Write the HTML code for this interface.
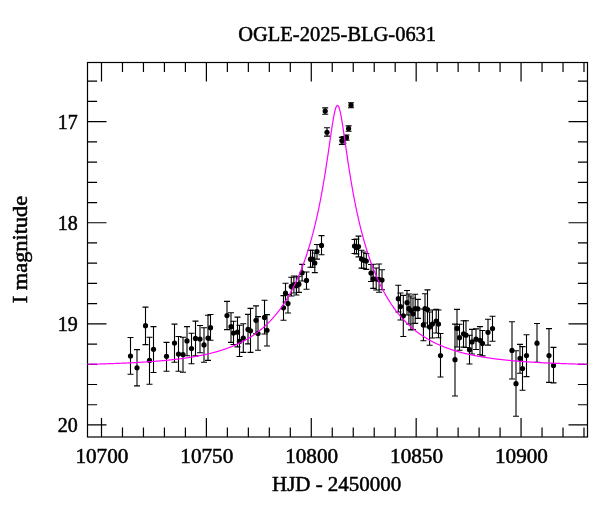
<!DOCTYPE html>
<html><head><meta charset="utf-8"><title>OGLE-2025-BLG-0631</title>
<style>html,body{margin:0;padding:0;background:#fff;}svg{display:block;}text{font-family:"Liberation Serif","DejaVu Serif",serif;fill:#000;stroke:#000;stroke-width:0.5px;}svg{will-change:transform;}</style></head><body>
<svg width="600" height="512" viewBox="0 0 600 512">
<rect width="600" height="512" fill="#fff"/>
<g stroke="#000" stroke-width="1.1" fill="none"><path d="M130.5 337.5V374.3M127.5 337.5H133.5M127.5 374.3H133.5"/><path d="M137.0 349.6V385.9M134.0 349.6H140.0M134.0 385.9H140.0"/><path d="M145.5 307.1V344.6M142.5 307.1H148.5M142.5 344.6H148.5"/><path d="M149.5 337.2V384.2M146.5 337.2H152.5M146.5 384.2H152.5"/><path d="M153.5 326.6V372.5M150.5 326.6H156.5M150.5 372.5H156.5"/><path d="M166.5 342.4V371.2M163.5 342.4H169.5M163.5 371.2H169.5"/><path d="M174.5 324.1V362.2M171.5 324.1H177.5M171.5 362.2H177.5"/><path d="M178.5 336.5V371.3M175.5 336.5H181.5M175.5 371.3H181.5"/><path d="M183.0 337.3V372.2M180.0 337.3H186.0M180.0 372.2H186.0"/><path d="M187.0 326.6V355.7M184.0 326.6H190.0M184.0 355.7H190.0"/><path d="M191.5 333.2V363.7M188.5 333.2H194.5M188.5 363.7H194.5"/><path d="M195.5 321.1V355.9M192.5 321.1H198.5M192.5 355.9H198.5"/><path d="M200.0 325.5V352.7M197.0 325.5H203.0M197.0 352.7H203.0"/><path d="M204.0 327.7V362.2M201.0 327.7H207.0M201.0 362.2H207.0"/><path d="M208.0 315.3V360.4M205.0 315.3H211.0M205.0 360.4H211.0"/><path d="M210.5 314.5V340.2M207.5 314.5H213.5M207.5 340.2H213.5"/><path d="M227.0 301.4V329.6M224.0 301.4H230.0M224.0 329.6H230.0"/><path d="M231.0 312.8V342.4M228.0 312.8H234.0M228.0 342.4H234.0"/><path d="M233.5 321.2V344.5M230.5 321.2H236.5M230.5 344.5H236.5"/><path d="M237.5 317.1V346.9M234.5 317.1H240.5M234.5 346.9H240.5"/><path d="M239.5 325.3V356.5M236.5 325.3H242.5M236.5 356.5H242.5"/><path d="M243.3 323.7V352.4M240.3 323.7H246.3M240.3 352.4H246.3"/><path d="M248.0 314.4V343.9M245.0 314.4H251.0M245.0 343.9H251.0"/><path d="M250.5 308.4V352.4M247.5 308.4H253.5M247.5 352.4H253.5"/><path d="M256.0 305.9V333.8M253.0 305.9H259.0M253.0 333.8H259.0"/><path d="M258.0 316.6V350.3M255.0 316.6H261.0M255.0 350.3H261.0"/><path d="M264.5 300.3V334.0M261.5 300.3H267.5M261.5 334.0H267.5"/><path d="M267.0 314.6V346.0M264.0 314.6H270.0M264.0 346.0H270.0"/><path d="M283.5 295.6V320.3M280.5 295.6H286.5M280.5 320.3H286.5"/><path d="M285.5 283.2V302.0M282.5 283.2H288.5M282.5 302.0H288.5"/><path d="M288.0 294.5V313.0M285.0 294.5H291.0M285.0 313.0H291.0"/><path d="M291.3 277.3V296.0M288.3 277.3H294.3M288.3 296.0H294.3"/><path d="M293.9 276.0V293.0M290.9 276.0H296.9M290.9 293.0H296.9"/><path d="M296.4 277.0V295.0M293.4 277.0H299.4M293.4 295.0H299.4"/><path d="M298.9 276.2V292.4M295.9 276.2H301.9M295.9 292.4H301.9"/><path d="M302.1 264.4V281.0M299.1 264.4H305.1M299.1 281.0H305.1"/><path d="M306.5 272.0V289.3M303.5 272.0H309.5M303.5 289.3H309.5"/><path d="M310.5 250.3V267.3M307.5 250.3H313.5M307.5 267.3H313.5"/><path d="M312.5 250.3V267.3M309.5 250.3H315.5M309.5 267.3H315.5"/><path d="M314.8 253.0V272.6M311.8 253.0H317.8M311.8 272.6H317.8"/><path d="M317.0 244.5V259.1M314.0 244.5H320.0M314.0 259.1H320.0"/><path d="M321.5 235.6V254.7M318.5 235.6H324.5M318.5 254.7H324.5"/><path d="M325.2 107.9V114.3M322.2 107.9H328.2M322.2 114.3H328.2"/><path d="M327.0 127.8V136.1M324.0 127.8H330.0M324.0 136.1H330.0"/><path d="M341.9 137.4V144.4M338.9 137.4H344.9M338.9 144.4H344.9"/><path d="M343.5 136.5V143.0M340.5 136.5H346.5M340.5 143.0H346.5"/><path d="M346.5 135.0V140.1M343.5 135.0H349.5M343.5 140.1H349.5"/><path d="M348.6 125.9V131.3M345.6 125.9H351.6M345.6 131.3H351.6"/><path d="M351.0 102.7V107.7M348.0 102.7H354.0M348.0 107.7H354.0"/><path d="M354.5 239.5V253.5M351.5 239.5H357.5M351.5 253.5H357.5"/><path d="M356.5 239.0V254.0M353.5 239.0H359.5M353.5 254.0H359.5"/><path d="M358.5 236.1V256.9M355.5 236.1H361.5M355.5 256.9H361.5"/><path d="M361.5 250.3V268.1M358.5 250.3H364.5M358.5 268.1H364.5"/><path d="M363.8 252.0V268.5M360.8 252.0H366.8M360.8 268.5H366.8"/><path d="M366.3 253.5V269.4M363.3 253.5H369.3M363.3 269.4H369.3"/><path d="M371.0 264.5V281.5M368.0 264.5H374.0M368.0 281.5H374.0"/><path d="M373.2 264.3V288.4M370.2 264.3H376.2M370.2 288.4H376.2"/><path d="M376.2 268.0V290.0M373.2 268.0H379.2M373.2 290.0H379.2"/><path d="M379.1 264.0V292.3M376.1 264.0H382.1M376.1 292.3H382.1"/><path d="M382.0 269.8V289.8M379.0 269.8H385.0M379.0 289.8H385.0"/><path d="M398.3 285.3V312.0M395.3 285.3H401.3M395.3 312.0H401.3"/><path d="M400.5 293.0V320.0M397.5 293.0H403.5M397.5 320.0H403.5"/><path d="M403.3 295.4V336.5M400.3 295.4H406.3M400.3 336.5H406.3"/><path d="M407.0 290.5V315.0M404.0 290.5H410.0M404.0 315.0H410.0"/><path d="M408.9 294.0V324.0M405.9 294.0H411.9M405.9 324.0H411.9"/><path d="M410.9 296.0V329.9M407.9 296.0H413.9M407.9 329.9H413.9"/><path d="M413.0 298.0V329.5M410.0 298.0H416.0M410.0 329.5H416.0"/><path d="M415.2 294.3V323.4M412.2 294.3H418.2M412.2 323.4H418.2"/><path d="M417.9 299.4V318.4M414.9 299.4H420.9M414.9 318.4H420.9"/><path d="M423.4 309.0V340.7M420.4 309.0H426.4M420.4 340.7H426.4"/><path d="M425.0 293.7V323.0M422.0 293.7H428.0M422.0 323.0H428.0"/><path d="M427.5 289.9V327.0M424.5 289.9H430.5M424.5 327.0H430.5"/><path d="M429.6 312.0V345.2M426.6 312.0H432.6M426.6 345.2H432.6"/><path d="M432.4 310.0V338.0M429.4 310.0H435.4M429.4 338.0H435.4"/><path d="M436.2 309.4V333.0M433.2 309.4H439.2M433.2 333.0H439.2"/><path d="M438.5 310.0V337.7M435.5 310.0H441.5M435.5 337.7H441.5"/><path d="M440.5 333.5V377.0M437.5 333.5H443.5M437.5 377.0H443.5"/><path d="M455.0 324.1V396.0M452.0 324.1H458.0M452.0 396.0H458.0"/><path d="M457.0 309.4V347.0M454.0 309.4H460.0M454.0 347.0H460.0"/><path d="M459.5 324.2V350.2M456.5 324.2H462.5M456.5 350.2H462.5"/><path d="M463.5 320.7V347.1M460.5 320.7H466.5M460.5 347.1H466.5"/><path d="M466.0 320.7V347.5M463.0 320.7H469.0M463.0 347.5H469.0"/><path d="M469.5 335.2V364.0M466.5 335.2H472.5M466.5 364.0H472.5"/><path d="M472.0 329.4V354.0M469.0 329.4H475.0M469.0 354.0H475.0"/><path d="M476.0 328.9V349.5M473.0 328.9H479.0M473.0 349.5H479.0"/><path d="M480.0 326.6V354.7M477.0 326.6H483.0M477.0 354.7H483.0"/><path d="M482.5 330.5V355.9M479.5 330.5H485.5M479.5 355.9H485.5"/><path d="M488.0 319.2V345.1M485.0 319.2H491.0M485.0 345.1H491.0"/><path d="M492.5 316.3V341.2M489.5 316.3H495.5M489.5 341.2H495.5"/><path d="M512.0 321.7V379.0M509.0 321.7H515.0M509.0 379.0H515.0"/><path d="M516.0 350.8V416.2M513.0 350.8H519.0M513.0 416.2H519.0"/><path d="M520.0 344.4V373.3M517.0 344.4H523.0M517.0 373.3H523.0"/><path d="M522.5 346.6V390.3M519.5 346.6H525.5M519.5 390.3H525.5"/><path d="M526.5 334.7V376.6M523.5 334.7H529.5M523.5 376.6H529.5"/><path d="M537.0 323.5V362.2M534.0 323.5H540.0M534.0 362.2H540.0"/><path d="M549.0 328.6V382.4M546.0 328.6H552.0M546.0 382.4H552.0"/><path d="M553.5 347.4V382.9M550.5 347.4H556.5M550.5 382.9H556.5"/></g>
<g fill="#000"><circle cx="130.5" cy="356.1" r="2.6"/><circle cx="137.0" cy="367.8" r="2.6"/><circle cx="145.5" cy="325.7" r="2.6"/><circle cx="149.5" cy="360.4" r="2.6"/><circle cx="153.5" cy="349.3" r="2.6"/><circle cx="166.5" cy="356.3" r="2.6"/><circle cx="174.5" cy="343.1" r="2.6"/><circle cx="178.5" cy="354.1" r="2.6"/><circle cx="183.0" cy="354.6" r="2.6"/><circle cx="187.0" cy="340.9" r="2.6"/><circle cx="191.5" cy="348.5" r="2.6"/><circle cx="195.5" cy="338.4" r="2.6"/><circle cx="200.0" cy="339.0" r="2.6"/><circle cx="204.0" cy="344.9" r="2.6"/><circle cx="208.0" cy="338.0" r="2.6"/><circle cx="210.5" cy="327.7" r="2.6"/><circle cx="227.0" cy="315.5" r="2.6"/><circle cx="231.0" cy="326.7" r="2.6"/><circle cx="233.5" cy="333.0" r="2.6"/><circle cx="237.5" cy="332.2" r="2.6"/><circle cx="239.5" cy="341.4" r="2.6"/><circle cx="243.3" cy="338.0" r="2.6"/><circle cx="248.0" cy="329.4" r="2.6"/><circle cx="250.5" cy="330.8" r="2.6"/><circle cx="256.0" cy="320.3" r="2.6"/><circle cx="258.0" cy="333.5" r="2.6"/><circle cx="264.5" cy="317.4" r="2.6"/><circle cx="267.0" cy="330.3" r="2.6"/><circle cx="283.5" cy="307.8" r="2.6"/><circle cx="285.5" cy="293.2" r="2.6"/><circle cx="288.0" cy="303.6" r="2.6"/><circle cx="291.3" cy="286.4" r="2.6"/><circle cx="293.9" cy="284.5" r="2.6"/><circle cx="296.4" cy="285.8" r="2.6"/><circle cx="298.9" cy="284.2" r="2.6"/><circle cx="302.1" cy="272.8" r="2.6"/><circle cx="306.5" cy="280.4" r="2.6"/><circle cx="310.5" cy="259.2" r="2.6"/><circle cx="312.5" cy="259.2" r="2.6"/><circle cx="314.8" cy="263.0" r="2.6"/><circle cx="317.0" cy="251.5" r="2.6"/><circle cx="321.5" cy="245.4" r="2.6"/><circle cx="325.2" cy="111.1" r="2.6"/><circle cx="327.0" cy="132.3" r="2.6"/><circle cx="341.9" cy="140.6" r="2.6"/><circle cx="343.5" cy="139.5" r="2.6"/><circle cx="346.5" cy="137.4" r="2.6"/><circle cx="348.6" cy="128.5" r="2.6"/><circle cx="351.0" cy="105.2" r="2.6"/><circle cx="354.5" cy="246.0" r="2.6"/><circle cx="356.5" cy="247.5" r="2.6"/><circle cx="358.5" cy="246.5" r="2.6"/><circle cx="361.5" cy="259.0" r="2.6"/><circle cx="363.8" cy="260.2" r="2.6"/><circle cx="366.3" cy="261.1" r="2.6"/><circle cx="371.0" cy="273.0" r="2.6"/><circle cx="373.2" cy="278.8" r="2.6"/><circle cx="376.2" cy="279.0" r="2.6"/><circle cx="379.1" cy="279.6" r="2.6"/><circle cx="382.0" cy="280.1" r="2.6"/><circle cx="398.3" cy="298.7" r="2.6"/><circle cx="400.5" cy="306.6" r="2.6"/><circle cx="403.3" cy="315.8" r="2.6"/><circle cx="407.0" cy="302.6" r="2.6"/><circle cx="408.9" cy="308.7" r="2.6"/><circle cx="410.9" cy="310.5" r="2.6"/><circle cx="413.0" cy="313.8" r="2.6"/><circle cx="415.2" cy="308.7" r="2.6"/><circle cx="417.9" cy="308.8" r="2.6"/><circle cx="423.4" cy="324.9" r="2.6"/><circle cx="425.0" cy="308.5" r="2.6"/><circle cx="427.5" cy="309.6" r="2.6"/><circle cx="429.6" cy="327.0" r="2.6"/><circle cx="432.4" cy="324.0" r="2.6"/><circle cx="436.2" cy="321.0" r="2.6"/><circle cx="438.5" cy="324.0" r="2.6"/><circle cx="440.5" cy="355.6" r="2.6"/><circle cx="455.0" cy="359.7" r="2.6"/><circle cx="457.0" cy="328.4" r="2.6"/><circle cx="459.5" cy="337.7" r="2.6"/><circle cx="463.5" cy="333.8" r="2.6"/><circle cx="466.0" cy="335.2" r="2.6"/><circle cx="469.5" cy="349.7" r="2.6"/><circle cx="472.0" cy="341.9" r="2.6"/><circle cx="476.0" cy="339.2" r="2.6"/><circle cx="480.0" cy="340.3" r="2.6"/><circle cx="482.5" cy="343.4" r="2.6"/><circle cx="488.0" cy="332.3" r="2.6"/><circle cx="492.5" cy="328.6" r="2.6"/><circle cx="512.0" cy="350.4" r="2.6"/><circle cx="516.0" cy="383.7" r="2.6"/><circle cx="520.0" cy="358.4" r="2.6"/><circle cx="522.5" cy="368.6" r="2.6"/><circle cx="526.5" cy="355.5" r="2.6"/><circle cx="537.0" cy="343.2" r="2.6"/><circle cx="549.0" cy="355.6" r="2.6"/><circle cx="553.5" cy="365.4" r="2.6"/></g>
<path d="M101.50 437.0V418.0M101.50 62.5V81.5M122.48 437.0V427.4M122.48 62.5V72.1M143.46 437.0V427.4M143.46 62.5V72.1M164.43 437.0V427.4M164.43 62.5V72.1M185.41 437.0V427.4M185.41 62.5V72.1M206.39 437.0V418.0M206.39 62.5V81.5M227.37 437.0V427.4M227.37 62.5V72.1M248.35 437.0V427.4M248.35 62.5V72.1M269.32 437.0V427.4M269.32 62.5V72.1M290.30 437.0V427.4M290.30 62.5V72.1M311.28 437.0V418.0M311.28 62.5V81.5M332.26 437.0V427.4M332.26 62.5V72.1M353.24 437.0V427.4M353.24 62.5V72.1M374.21 437.0V427.4M374.21 62.5V72.1M395.19 437.0V427.4M395.19 62.5V72.1M416.17 437.0V418.0M416.17 62.5V81.5M437.15 437.0V427.4M437.15 62.5V72.1M458.13 437.0V427.4M458.13 62.5V72.1M479.10 437.0V427.4M479.10 62.5V72.1M500.08 437.0V427.4M500.08 62.5V72.1M521.06 437.0V418.0M521.06 62.5V81.5M542.04 437.0V427.4M542.04 62.5V72.1M563.02 437.0V427.4M563.02 62.5V72.1M583.99 437.0V427.4M583.99 62.5V72.1M87.5 81.21H97.1M587.5 81.21H577.9M87.5 101.43H97.1M587.5 101.43H577.9M87.5 121.65H106.5M587.5 121.65H568.5M87.5 141.87H97.1M587.5 141.87H577.9M87.5 162.09H97.1M587.5 162.09H577.9M87.5 182.31H97.1M587.5 182.31H577.9M87.5 202.53H97.1M587.5 202.53H577.9M87.5 222.75H106.5M587.5 222.75H568.5M87.5 242.97H97.1M587.5 242.97H577.9M87.5 263.19H97.1M587.5 263.19H577.9M87.5 283.41H97.1M587.5 283.41H577.9M87.5 303.63H97.1M587.5 303.63H577.9M87.5 323.85H106.5M587.5 323.85H568.5M87.5 344.07H97.1M587.5 344.07H577.9M87.5 364.29H97.1M587.5 364.29H577.9M87.5 384.51H97.1M587.5 384.51H577.9M87.5 404.73H97.1M587.5 404.73H577.9M87.5 424.95H106.5M587.5 424.95H568.5" stroke="#000" stroke-width="1.2" fill="none"/>
<rect x="87.5" y="62.5" width="500.0" height="374.5" fill="none" stroke="#000" stroke-width="1.2"/>
<clipPath id="c"><rect x="87" y="62" width="501" height="376"/></clipPath>
<polyline points="87.50,364.30 87.83,364.29 88.17,364.28 88.50,364.27 88.83,364.27 89.17,364.26 89.50,364.25 89.83,364.24 90.17,364.23 90.50,364.23 90.84,364.22 91.17,364.21 91.50,364.20 91.84,364.19 92.17,364.19 92.50,364.18 92.84,364.17 93.17,364.16 93.50,364.15 93.84,364.14 94.17,364.13 94.50,364.13 94.84,364.12 95.17,364.11 95.51,364.10 95.84,364.09 96.17,364.08 96.51,364.07 96.84,364.06 97.17,364.05 97.51,364.04 97.84,364.04 98.17,364.03 98.51,364.02 98.84,364.01 99.17,364.00 99.51,363.99 99.84,363.98 100.18,363.97 100.51,363.96 100.84,363.95 101.18,363.94 101.51,363.93 101.84,363.92 102.18,363.91 102.51,363.90 102.84,363.89 103.18,363.88 103.51,363.87 103.84,363.86 104.18,363.85 104.51,363.84 104.84,363.83 105.18,363.82 105.51,363.81 105.85,363.80 106.18,363.79 106.51,363.78 106.85,363.77 107.18,363.76 107.51,363.75 107.85,363.73 108.18,363.72 108.51,363.71 108.85,363.70 109.18,363.69 109.51,363.68 109.85,363.67 110.18,363.66 110.52,363.64 110.85,363.63 111.18,363.62 111.52,363.61 111.85,363.60 112.18,363.59 112.52,363.58 112.85,363.56 113.18,363.55 113.52,363.54 113.85,363.53 114.18,363.52 114.52,363.50 114.85,363.49 115.19,363.48 115.52,363.47 115.85,363.45 116.19,363.44 116.52,363.43 116.85,363.42 117.19,363.40 117.52,363.39 117.85,363.38 118.19,363.36 118.52,363.35 118.85,363.34 119.19,363.32 119.52,363.31 119.85,363.30 120.19,363.28 120.52,363.27 120.86,363.26 121.19,363.24 121.52,363.23 121.86,363.22 122.19,363.20 122.52,363.19 122.86,363.17 123.19,363.16 123.52,363.14 123.86,363.13 124.19,363.12 124.52,363.10 124.86,363.09 125.19,363.07 125.53,363.06 125.86,363.04 126.19,363.03 126.53,363.01 126.86,363.00 127.19,362.98 127.53,362.97 127.86,362.95 128.19,362.93 128.53,362.92 128.86,362.90 129.19,362.89 129.53,362.87 129.86,362.86 130.20,362.84 130.53,362.82 130.86,362.81 131.20,362.79 131.53,362.77 131.86,362.76 132.20,362.74 132.53,362.72 132.86,362.71 133.20,362.69 133.53,362.67 133.86,362.65 134.20,362.64 134.53,362.62 134.86,362.60 135.20,362.58 135.53,362.57 135.87,362.55 136.20,362.53 136.53,362.51 136.87,362.49 137.20,362.48 137.53,362.46 137.87,362.44 138.20,362.42 138.53,362.40 138.87,362.38 139.20,362.36 139.53,362.34 139.87,362.33 140.20,362.31 140.54,362.29 140.87,362.27 141.20,362.25 141.54,362.23 141.87,362.21 142.20,362.19 142.54,362.17 142.87,362.15 143.20,362.13 143.54,362.11 143.87,362.08 144.20,362.06 144.54,362.04 144.87,362.02 145.21,362.00 145.54,361.98 145.87,361.96 146.21,361.93 146.54,361.91 146.87,361.89 147.21,361.87 147.54,361.85 147.87,361.82 148.21,361.80 148.54,361.78 148.87,361.76 149.21,361.73 149.54,361.71 149.87,361.69 150.21,361.66 150.54,361.64 150.88,361.62 151.21,361.59 151.54,361.57 151.88,361.54 152.21,361.52 152.54,361.49 152.88,361.47 153.21,361.45 153.54,361.42 153.88,361.39 154.21,361.37 154.54,361.34 154.88,361.32 155.21,361.29 155.55,361.27 155.88,361.24 156.21,361.21 156.55,361.19 156.88,361.16 157.21,361.13 157.55,361.11 157.88,361.08 158.21,361.05 158.55,361.02 158.88,361.00 159.21,360.97 159.55,360.94 159.88,360.91 160.22,360.88 160.55,360.86 160.88,360.83 161.22,360.80 161.55,360.77 161.88,360.74 162.22,360.71 162.55,360.68 162.88,360.65 163.22,360.62 163.55,360.59 163.88,360.56 164.22,360.53 164.55,360.50 164.88,360.47 165.22,360.43 165.55,360.40 165.89,360.37 166.22,360.34 166.55,360.31 166.89,360.27 167.22,360.24 167.55,360.21 167.89,360.17 168.22,360.14 168.55,360.11 168.89,360.07 169.22,360.04 169.55,360.01 169.89,359.97 170.22,359.94 170.56,359.90 170.89,359.87 171.22,359.83 171.56,359.79 171.89,359.76 172.22,359.72 172.56,359.69 172.89,359.65 173.22,359.61 173.56,359.57 173.89,359.54 174.22,359.50 174.56,359.46 174.89,359.42 175.23,359.38 175.56,359.35 175.89,359.31 176.23,359.27 176.56,359.23 176.89,359.19 177.23,359.15 177.56,359.11 177.89,359.07 178.23,359.03 178.56,358.99 178.89,358.94 179.23,358.90 179.56,358.86 179.89,358.82 180.23,358.77 180.56,358.73 180.90,358.69 181.23,358.64 181.56,358.60 181.90,358.56 182.23,358.51 182.56,358.47 182.90,358.42 183.23,358.38 183.56,358.33 183.90,358.29 184.23,358.24 184.56,358.19 184.90,358.14 185.23,358.10 185.57,358.05 185.90,358.00 186.23,357.95 186.57,357.90 186.90,357.86 187.23,357.81 187.57,357.76 187.90,357.71 188.23,357.66 188.57,357.60 188.90,357.55 189.23,357.50 189.57,357.45 189.90,357.40 190.24,357.35 190.57,357.29 190.90,357.24 191.24,357.19 191.57,357.13 191.90,357.08 192.24,357.02 192.57,356.97 192.90,356.91 193.24,356.85 193.57,356.80 193.90,356.74 194.24,356.68 194.57,356.63 194.90,356.57 195.24,356.51 195.57,356.45 195.91,356.39 196.24,356.33 196.57,356.27 196.91,356.21 197.24,356.15 197.57,356.09 197.91,356.02 198.24,355.96 198.57,355.90 198.91,355.84 199.24,355.77 199.57,355.71 199.91,355.64 200.24,355.58 200.58,355.51 200.91,355.44 201.24,355.38 201.58,355.31 201.91,355.24 202.24,355.17 202.58,355.11 202.91,355.04 203.24,354.97 203.58,354.90 203.91,354.83 204.24,354.75 204.58,354.68 204.91,354.61 205.25,354.54 205.58,354.46 205.91,354.39 206.25,354.31 206.58,354.24 206.91,354.16 207.25,354.09 207.58,354.01 207.91,353.93 208.25,353.86 208.58,353.78 208.91,353.70 209.25,353.62 209.58,353.54 209.91,353.46 210.25,353.38 210.58,353.29 210.92,353.21 211.25,353.13 211.58,353.04 211.92,352.96 212.25,352.87 212.58,352.79 212.92,352.70 213.25,352.61 213.58,352.53 213.92,352.44 214.25,352.35 214.58,352.26 214.92,352.17 215.25,352.08 215.59,351.98 215.92,351.89 216.25,351.80 216.59,351.70 216.92,351.61 217.25,351.51 217.59,351.42 217.92,351.32 218.25,351.22 218.59,351.12 218.92,351.03 219.25,350.93 219.59,350.83 219.92,350.72 220.26,350.62 220.59,350.52 220.92,350.41 221.26,350.31 221.59,350.20 221.92,350.10 222.26,349.99 222.59,349.88 222.92,349.77 223.26,349.66 223.59,349.55 223.92,349.44 224.26,349.33 224.59,349.22 224.92,349.10 225.26,348.99 225.59,348.87 225.93,348.76 226.26,348.64 226.59,348.52 226.93,348.40 227.26,348.28 227.59,348.16 227.93,348.04 228.26,347.92 228.59,347.79 228.93,347.67 229.26,347.54 229.59,347.41 229.93,347.29 230.26,347.16 230.60,347.03 230.93,346.90 231.26,346.76 231.60,346.63 231.93,346.50 232.26,346.36 232.60,346.22 232.93,346.09 233.26,345.95 233.60,345.81 233.93,345.67 234.26,345.53 234.60,345.38 234.93,345.24 235.27,345.10 235.60,344.95 235.93,344.80 236.27,344.65 236.60,344.50 236.93,344.35 237.27,344.20 237.60,344.05 237.93,343.89 238.27,343.74 238.60,343.58 238.93,343.42 239.27,343.26 239.60,343.10 239.93,342.94 240.27,342.77 240.60,342.61 240.94,342.44 241.27,342.27 241.60,342.11 241.94,341.94 242.27,341.76 242.60,341.59 242.94,341.42 243.27,341.24 243.60,341.06 243.94,340.88 244.27,340.70 244.60,340.52 244.94,340.34 245.27,340.16 245.61,339.97 245.94,339.78 246.27,339.59 246.61,339.40 246.94,339.21 247.27,339.02 247.61,338.82 247.94,338.62 248.27,338.42 248.61,338.22 248.94,338.02 249.27,337.82 249.61,337.61 249.94,337.41 250.28,337.20 250.61,336.99 250.94,336.77 251.28,336.56 251.61,336.35 251.94,336.13 252.28,335.91 252.61,335.69 252.94,335.46 253.28,335.24 253.61,335.01 253.94,334.78 254.28,334.55 254.61,334.32 254.94,334.09 255.28,333.85 255.61,333.61 255.95,333.37 256.28,333.13 256.61,332.89 256.95,332.64 257.28,332.39 257.61,332.14 257.95,331.89 258.28,331.63 258.61,331.38 258.95,331.12 259.28,330.86 259.61,330.59 259.95,330.33 260.28,330.06 260.62,329.79 260.95,329.52 261.28,329.24 261.62,328.96 261.95,328.68 262.28,328.40 262.62,328.12 262.95,327.83 263.28,327.54 263.62,327.25 263.95,326.96 264.28,326.66 264.62,326.36 264.95,326.06 265.29,325.75 265.62,325.45 265.95,325.14 266.29,324.82 266.62,324.51 266.95,324.19 267.29,323.87 267.62,323.55 267.95,323.22 268.29,322.89 268.62,322.56 268.95,322.23 269.29,321.89 269.62,321.55 269.95,321.20 270.29,320.86 270.62,320.51 270.96,320.15 271.29,319.80 271.62,319.44 271.96,319.08 272.29,318.71 272.62,318.34 272.96,317.97 273.29,317.60 273.62,317.22 273.96,316.84 274.29,316.45 274.62,316.06 274.96,315.67 275.29,315.27 275.63,314.87 275.96,314.47 276.29,314.07 276.63,313.66 276.96,313.24 277.29,312.82 277.63,312.40 277.96,311.98 278.29,311.55 278.63,311.12 278.96,310.68 279.29,310.24 279.63,309.79 279.96,309.34 280.30,308.89 280.63,308.43 280.96,307.97 281.30,307.51 281.63,307.04 281.96,306.56 282.30,306.08 282.63,305.60 282.96,305.11 283.30,304.62 283.63,304.12 283.96,303.62 284.30,303.12 284.63,302.61 284.96,302.09 285.30,301.57 285.63,301.04 285.97,300.51 286.30,299.98 286.63,299.44 286.97,298.89 287.30,298.34 287.63,297.79 287.97,297.22 288.30,296.66 288.63,296.09 288.97,295.51 289.30,294.92 289.63,294.34 289.97,293.74 290.30,293.14 290.64,292.53 290.97,291.92 291.30,291.30 291.64,290.68 291.97,290.05 292.30,289.41 292.64,288.77 292.97,288.12 293.30,287.46 293.64,286.80 293.97,286.13 294.30,285.45 294.64,284.77 294.97,284.08 295.31,283.38 295.64,282.68 295.97,281.97 296.31,281.25 296.64,280.52 296.97,279.79 297.31,279.05 297.64,278.30 297.97,277.54 298.31,276.78 298.64,276.01 298.97,275.22 299.31,274.44 299.64,273.64 299.97,272.83 300.31,272.02 300.64,271.19 300.98,270.36 301.31,269.52 301.64,268.67 301.98,267.81 302.31,266.94 302.64,266.06 302.98,265.18 303.31,264.28 303.64,263.37 303.98,262.45 304.31,261.52 304.64,260.58 304.98,259.63 305.31,258.67 305.65,257.70 305.98,256.72 306.31,255.72 306.65,254.72 306.98,253.70 307.31,252.67 307.65,251.63 307.98,250.58 308.31,249.51 308.65,248.43 308.98,247.34 309.31,246.23 309.65,245.12 309.98,243.98 310.32,242.84 310.65,241.68 310.98,240.50 311.32,239.31 311.65,238.11 311.98,236.89 312.32,235.66 312.65,234.40 312.98,233.14 313.32,231.86 313.65,230.56 313.98,229.24 314.32,227.91 314.65,226.56 314.98,225.19 315.32,223.80 315.65,222.40 315.99,220.97 316.32,219.53 316.65,218.07 316.99,216.59 317.32,215.08 317.65,213.56 317.99,212.02 318.32,210.45 318.65,208.87 318.99,207.26 319.32,205.63 319.65,203.97 319.99,202.30 320.32,200.59 320.66,198.87 320.99,197.12 321.32,195.35 321.66,193.55 321.99,191.73 322.32,189.88 322.66,188.01 322.99,186.11 323.32,184.18 323.66,182.23 323.99,180.26 324.32,178.25 324.66,176.22 324.99,174.17 325.33,172.08 325.66,169.98 325.99,167.85 326.33,165.69 326.66,163.51 326.99,161.31 327.33,159.08 327.66,156.84 327.99,154.58 328.33,152.30 328.66,150.01 328.99,147.70 329.33,145.39 329.66,143.07 329.99,140.75 330.33,138.44 330.66,136.13 331.00,133.84 331.33,131.57 331.66,129.33 332.00,127.13 332.33,124.97 332.66,122.87 333.00,120.83 333.33,118.86 333.66,116.99 334.00,115.21 334.33,113.54 334.66,112.00 335.00,110.60 335.33,109.34 335.67,108.24 336.00,107.31 336.33,106.56 336.67,106.00 337.00,105.63 337.33,105.45 337.67,105.48 338.00,105.70 338.33,106.12 338.67,106.73 339.00,107.52 339.33,108.49 339.67,109.63 340.00,110.93 340.34,112.37 340.67,113.94 341.00,115.64 341.34,117.44 341.67,119.34 342.00,121.32 342.34,123.38 342.67,125.50 343.00,127.67 343.34,129.88 343.67,132.13 344.00,134.41 344.34,136.70 344.67,139.01 345.01,141.33 345.34,143.65 345.67,145.96 346.01,148.27 346.34,150.57 346.67,152.86 347.01,155.14 347.34,157.40 347.67,159.64 348.01,161.85 348.34,164.05 348.67,166.23 349.01,168.38 349.34,170.50 349.67,172.60 350.01,174.68 350.34,176.73 350.68,178.75 351.01,180.75 351.34,182.72 351.68,184.66 352.01,186.58 352.34,188.47 352.68,190.34 353.01,192.18 353.34,194.00 353.68,195.79 354.01,197.56 354.34,199.30 354.68,201.02 355.01,202.71 355.35,204.38 355.68,206.03 356.01,207.66 356.35,209.26 356.68,210.84 357.01,212.40 357.35,213.94 357.68,215.46 358.01,216.95 358.35,218.43 358.68,219.89 359.01,221.33 359.35,222.75 359.68,224.15 360.02,225.53 360.35,226.89 360.68,228.24 361.02,229.57 361.35,230.88 361.68,232.17 362.02,233.45 362.35,234.72 362.68,235.96 363.02,237.19 363.35,238.41 363.68,239.61 364.02,240.79 364.35,241.97 364.68,243.12 365.02,244.26 365.35,245.39 365.69,246.51 366.02,247.61 366.35,248.70 366.69,249.78 367.02,250.84 367.35,251.89 367.69,252.93 368.02,253.95 368.35,254.97 368.69,255.97 369.02,256.96 369.35,257.94 369.69,258.91 370.02,259.87 370.36,260.82 370.69,261.75 371.02,262.68 371.36,263.60 371.69,264.50 372.02,265.40 372.36,266.28 372.69,267.16 373.02,268.03 373.36,268.88 373.69,269.73 374.02,270.57 374.36,271.40 374.69,272.22 375.03,273.03 375.36,273.84 375.69,274.63 376.03,275.42 376.36,276.20 376.69,276.97 377.03,277.73 377.36,278.49 377.69,279.23 378.03,279.97 378.36,280.70 378.69,281.43 379.03,282.14 379.36,282.85 379.69,283.56 380.03,284.25 380.36,284.94 380.70,285.62 381.03,286.30 381.36,286.96 381.70,287.62 382.03,288.28 382.36,288.93 382.70,289.57 383.03,290.20 383.36,290.83 383.70,291.46 384.03,292.07 384.36,292.68 384.70,293.29 385.03,293.89 385.37,294.48 385.70,295.07 386.03,295.65 386.37,296.23 386.70,296.80 387.03,297.36 387.37,297.92 387.70,298.48 388.03,299.03 388.37,299.57 388.70,300.11 389.03,300.65 389.37,301.18 389.70,301.70 390.04,302.22 390.37,302.73 390.70,303.24 391.04,303.75 391.37,304.25 391.70,304.74 392.04,305.23 392.37,305.72 392.70,306.20 393.04,306.68 393.37,307.15 393.70,307.62 394.04,308.09 394.37,308.55 394.70,309.00 395.04,309.46 395.37,309.90 395.71,310.35 396.04,310.79 396.37,311.22 396.71,311.66 397.04,312.08 397.37,312.51 397.71,312.93 398.04,313.34 398.37,313.76 398.71,314.17 399.04,314.57 399.37,314.97 399.71,315.37 400.04,315.77 400.38,316.16 400.71,316.55 401.04,316.93 401.38,317.31 401.71,317.69 402.04,318.06 402.38,318.44 402.71,318.80 403.04,319.17 403.38,319.53 403.71,319.89 404.04,320.24 404.38,320.59 404.71,320.94 405.05,321.29 405.38,321.63 405.71,321.97 406.05,322.31 406.38,322.64 406.71,322.97 407.05,323.30 407.38,323.63 407.71,323.95 408.05,324.27 408.38,324.59 408.71,324.90 409.05,325.21 409.38,325.52 409.71,325.83 410.05,326.13 410.38,326.43 410.72,326.73 411.05,327.03 411.38,327.32 411.72,327.61 412.05,327.90 412.38,328.19 412.72,328.47 413.05,328.75 413.38,329.03 413.72,329.31 414.05,329.58 414.38,329.86 414.72,330.13 415.05,330.39 415.39,330.66 415.72,330.92 416.05,331.18 416.39,331.44 416.72,331.70 417.05,331.95 417.39,332.20 417.72,332.45 418.05,332.70 418.39,332.95 418.72,333.19 419.05,333.43 419.39,333.67 419.72,333.91 420.06,334.15 420.39,334.38 420.72,334.61 421.06,334.84 421.39,335.07 421.72,335.30 422.06,335.52 422.39,335.74 422.72,335.96 423.06,336.18 423.39,336.40 423.72,336.61 424.06,336.83 424.39,337.04 424.72,337.25 425.06,337.46 425.39,337.66 425.73,337.87 426.06,338.07 426.39,338.27 426.73,338.47 427.06,338.67 427.39,338.87 427.73,339.06 428.06,339.26 428.39,339.45 428.73,339.64 429.06,339.83 429.39,340.02 429.73,340.20 430.06,340.39 430.40,340.57 430.73,340.75 431.06,340.93 431.40,341.11 431.73,341.28 432.06,341.46 432.40,341.63 432.73,341.81 433.06,341.98 433.40,342.15 433.73,342.32 434.06,342.48 434.40,342.65 434.73,342.81 435.07,342.98 435.40,343.14 435.73,343.30 436.07,343.46 436.40,343.62 436.73,343.77 437.07,343.93 437.40,344.08 437.73,344.24 438.07,344.39 438.40,344.54 438.73,344.69 439.07,344.84 439.40,344.99 439.73,345.13 440.07,345.28 440.40,345.42 440.74,345.56 441.07,345.70 441.40,345.84 441.74,345.98 442.07,346.12 442.40,346.26 442.74,346.39 443.07,346.53 443.40,346.66 443.74,346.80 444.07,346.93 444.40,347.06 444.74,347.19 445.07,347.32 445.41,347.45 445.74,347.57 446.07,347.70 446.41,347.82 446.74,347.95 447.07,348.07 447.41,348.19 447.74,348.31 448.07,348.43 448.41,348.55 448.74,348.67 449.07,348.79 449.41,348.90 449.74,349.02 450.08,349.13 450.41,349.25 450.74,349.36 451.08,349.47 451.41,349.58 451.74,349.69 452.08,349.80 452.41,349.91 452.74,350.02 453.08,350.12 453.41,350.23 453.74,350.34 454.08,350.44 454.41,350.54 454.74,350.65 455.08,350.75 455.41,350.85 455.75,350.95 456.08,351.05 456.41,351.15 456.75,351.25 457.08,351.35 457.41,351.44 457.75,351.54 458.08,351.63 458.41,351.73 458.75,351.82 459.08,351.91 459.41,352.01 459.75,352.10 460.08,352.19 460.42,352.28 460.75,352.37 461.08,352.46 461.42,352.55 461.75,352.64 462.08,352.72 462.42,352.81 462.75,352.89 463.08,352.98 463.42,353.06 463.75,353.15 464.08,353.23 464.42,353.31 464.75,353.40 465.09,353.48 465.42,353.56 465.75,353.64 466.09,353.72 466.42,353.80 466.75,353.87 467.09,353.95 467.42,354.03 467.75,354.11 468.09,354.18 468.42,354.26 468.75,354.33 469.09,354.41 469.42,354.48 469.75,354.55 470.09,354.63 470.42,354.70 470.76,354.77 471.09,354.84 471.42,354.91 471.76,354.98 472.09,355.05 472.42,355.12 472.76,355.19 473.09,355.26 473.42,355.33 473.76,355.39 474.09,355.46 474.42,355.53 474.76,355.59 475.09,355.66 475.43,355.72 475.76,355.79 476.09,355.85 476.43,355.91 476.76,355.98 477.09,356.04 477.43,356.10 477.76,356.16 478.09,356.22 478.43,356.28 478.76,356.35 479.09,356.40 479.43,356.46 479.76,356.52 480.10,356.58 480.43,356.64 480.76,356.70 481.10,356.75 481.43,356.81 481.76,356.87 482.10,356.92 482.43,356.98 482.76,357.04 483.10,357.09 483.43,357.14 483.76,357.20 484.10,357.25 484.43,357.31 484.76,357.36 485.10,357.41 485.43,357.46 485.77,357.52 486.10,357.57 486.43,357.62 486.77,357.67 487.10,357.72 487.43,357.77 487.77,357.82 488.10,357.87 488.43,357.92 488.77,357.97 489.10,358.01 489.43,358.06 489.77,358.11 490.10,358.16 490.44,358.20 490.77,358.25 491.10,358.30 491.44,358.34 491.77,358.39 492.10,358.43 492.44,358.48 492.77,358.52 493.10,358.57 493.44,358.61 493.77,358.66 494.10,358.70 494.44,358.74 494.77,358.79 495.11,358.83 495.44,358.87 495.77,358.91 496.11,358.95 496.44,359.00 496.77,359.04 497.11,359.08 497.44,359.12 497.77,359.16 498.11,359.20 498.44,359.24 498.77,359.28 499.11,359.32 499.44,359.36 499.77,359.39 500.11,359.43 500.44,359.47 500.78,359.51 501.11,359.55 501.44,359.58 501.78,359.62 502.11,359.66 502.44,359.69 502.78,359.73 503.11,359.77 503.44,359.80 503.78,359.84 504.11,359.87 504.44,359.91 504.78,359.94 505.11,359.98 505.45,360.01 505.78,360.05 506.11,360.08 506.45,360.12 506.78,360.15 507.11,360.18 507.45,360.22 507.78,360.25 508.11,360.28 508.45,360.31 508.78,360.35 509.11,360.38 509.45,360.41 509.78,360.44 510.12,360.47 510.45,360.50 510.78,360.54 511.12,360.57 511.45,360.60 511.78,360.63 512.12,360.66 512.45,360.69 512.78,360.72 513.12,360.75 513.45,360.78 513.78,360.80 514.12,360.83 514.45,360.86 514.78,360.89 515.12,360.92 515.45,360.95 515.79,360.98 516.12,361.00 516.45,361.03 516.79,361.06 517.12,361.09 517.45,361.11 517.79,361.14 518.12,361.17 518.45,361.19 518.79,361.22 519.12,361.25 519.45,361.27 519.79,361.30 520.12,361.32 520.46,361.35 520.79,361.38 521.12,361.40 521.46,361.43 521.79,361.45 522.12,361.48 522.46,361.50 522.79,361.53 523.12,361.55 523.46,361.57 523.79,361.60 524.12,361.62 524.46,361.65 524.79,361.67 525.13,361.69 525.46,361.72 525.79,361.74 526.13,361.76 526.46,361.78 526.79,361.81 527.13,361.83 527.46,361.85 527.79,361.87 528.13,361.90 528.46,361.92 528.79,361.94 529.13,361.96 529.46,361.98 529.79,362.01 530.13,362.03 530.46,362.05 530.80,362.07 531.13,362.09 531.46,362.11 531.80,362.13 532.13,362.15 532.46,362.17 532.80,362.19 533.13,362.21 533.46,362.23 533.80,362.25 534.13,362.27 534.46,362.29 534.80,362.31 535.13,362.33 535.47,362.35 535.80,362.37 536.13,362.39 536.47,362.41 536.80,362.43 537.13,362.44 537.47,362.46 537.80,362.48 538.13,362.50 538.47,362.52 538.80,362.54 539.13,362.55 539.47,362.57 539.80,362.59 540.14,362.61 540.47,362.62 540.80,362.64 541.14,362.66 541.47,362.68 541.80,362.69 542.14,362.71 542.47,362.73 542.80,362.74 543.14,362.76 543.47,362.78 543.80,362.79 544.14,362.81 544.47,362.83 544.80,362.84 545.14,362.86 545.47,362.88 545.81,362.89 546.14,362.91 546.47,362.92 546.81,362.94 547.14,362.95 547.47,362.97 547.81,362.98 548.14,363.00 548.47,363.02 548.81,363.03 549.14,363.05 549.47,363.06 549.81,363.08 550.14,363.09 550.48,363.10 550.81,363.12 551.14,363.13 551.48,363.15 551.81,363.16 552.14,363.18 552.48,363.19 552.81,363.20 553.14,363.22 553.48,363.23 553.81,363.25 554.14,363.26 554.48,363.27 554.81,363.29 555.15,363.30 555.48,363.31 555.81,363.33 556.15,363.34 556.48,363.35 556.81,363.37 557.15,363.38 557.48,363.39 557.81,363.41 558.15,363.42 558.48,363.43 558.81,363.44 559.15,363.46 559.48,363.47 559.81,363.48 560.15,363.49 560.48,363.51 560.82,363.52 561.15,363.53 561.48,363.54 561.82,363.55 562.15,363.57 562.48,363.58 562.82,363.59 563.15,363.60 563.48,363.61 563.82,363.62 564.15,363.64 564.48,363.65 564.82,363.66 565.15,363.67 565.49,363.68 565.82,363.69 566.15,363.70 566.49,363.72 566.82,363.73 567.15,363.74 567.49,363.75 567.82,363.76 568.15,363.77 568.49,363.78 568.82,363.79 569.15,363.80 569.49,363.81 569.82,363.82 570.16,363.83 570.49,363.84 570.82,363.85 571.16,363.86 571.49,363.87 571.82,363.88 572.16,363.89 572.49,363.90 572.82,363.91 573.16,363.92 573.49,363.93 573.82,363.94 574.16,363.95 574.49,363.96 574.82,363.97 575.16,363.98 575.49,363.99 575.83,364.00 576.16,364.01 576.49,364.02 576.83,364.03 577.16,364.04 577.49,364.05 577.83,364.06 578.16,364.07 578.49,364.07 578.83,364.08 579.16,364.09 579.49,364.10 579.83,364.11 580.16,364.12 580.50,364.13 580.83,364.14 581.16,364.14 581.50,364.15 581.83,364.16 582.16,364.17 582.50,364.18 582.83,364.19 583.16,364.20 583.50,364.20 583.83,364.21 584.16,364.22 584.50,364.23 584.83,364.24 585.17,364.24 585.50,364.25 585.83,364.26 586.17,364.27 586.50,364.28 586.83,364.28 587.17,364.29 587.50,364.30" fill="none" stroke="#ff00ff" stroke-width="1.2" clip-path="url(#c)"/>
<text x="337.2" y="40.7" font-size="20" text-anchor="middle" textLength="197.8" lengthAdjust="spacingAndGlyphs">OGLE-2025-BLG-0631</text>
<text x="336.6" y="491.3" font-size="20" text-anchor="middle" textLength="129.2" lengthAdjust="spacingAndGlyphs">HJD - 2450000</text>
<text transform="translate(26.7,249.5) rotate(-90)" x="0" y="0" font-size="20" text-anchor="middle" textLength="107.5" lengthAdjust="spacingAndGlyphs">I magnitude</text>
<text x="101.90" y="462.8" font-size="20" text-anchor="middle" textLength="53.0" lengthAdjust="spacingAndGlyphs">10700</text>
<text x="206.79" y="462.8" font-size="20" text-anchor="middle" textLength="53.0" lengthAdjust="spacingAndGlyphs">10750</text>
<text x="311.68" y="462.8" font-size="20" text-anchor="middle" textLength="53.0" lengthAdjust="spacingAndGlyphs">10800</text>
<text x="416.57" y="462.8" font-size="20" text-anchor="middle" textLength="53.0" lengthAdjust="spacingAndGlyphs">10850</text>
<text x="521.46" y="462.8" font-size="20" text-anchor="middle" textLength="53.0" lengthAdjust="spacingAndGlyphs">10900</text>
<text x="77.7" y="128.85" font-size="20" text-anchor="end">17</text>
<text x="77.7" y="229.95" font-size="20" text-anchor="end">18</text>
<text x="77.7" y="331.05" font-size="20" text-anchor="end">19</text>
<text x="77.7" y="432.15" font-size="20" text-anchor="end">20</text>
</svg></body></html>
